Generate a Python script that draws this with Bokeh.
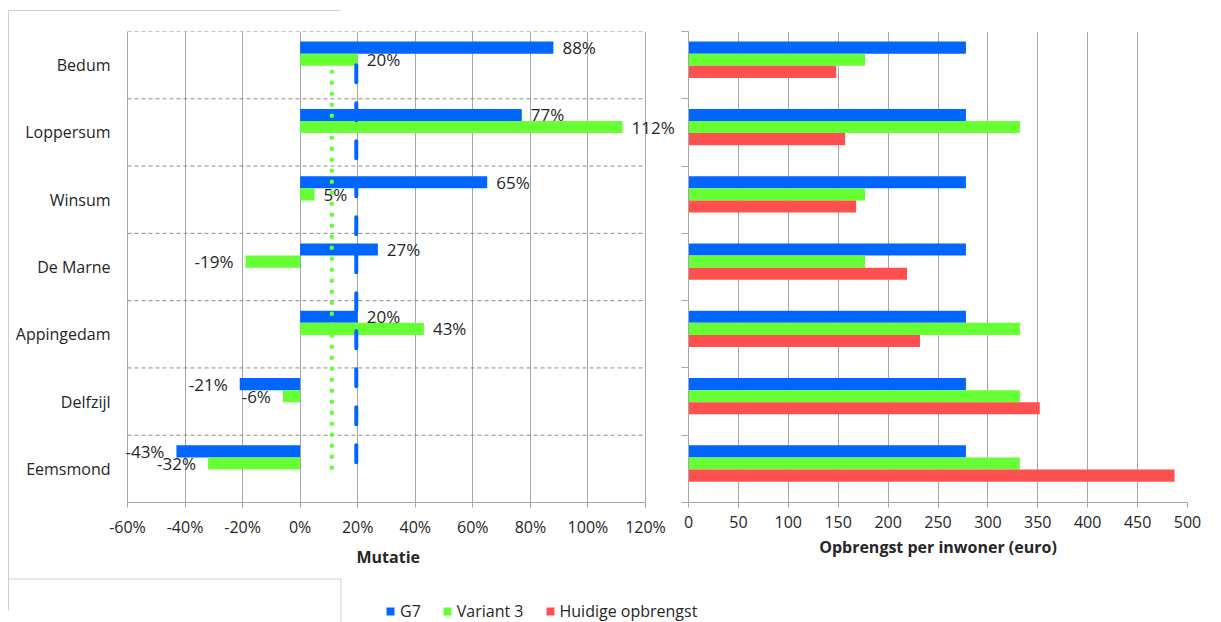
import numpy as np
from bokeh.plotting import figure
from bokeh.models import (Range1d, FixedTicker, SingleIntervalTicker, PrintfTickFormatter,
                          ColumnDataSource, Legend, LegendItem, BoxAnnotation, InlineStyleSheet,
                          Title)
from bokeh.layouts import column, row
from bokeh.embed import file_html
from bokeh.resources import INLINE
from bokeh.core.properties import value

# ---------------- data ----------------
municipalities = ["Bedum", "Loppersum", "Winsum", "De Marne", "Appingedam", "Delfzijl", "Eemsmond"]
g7_mutation = [88, 77, 65, 27, 20, -21, -43]            # %
variant3_mutation = [20, 112, 5, -19, 43, -6, -32]      # %
g7_revenue = [278, 278, 278, 278, 278, 278, 278]        # euro per inhabitant
variant3_revenue = [177, 332, 177, 177, 332, 332, 332]
current_revenue = [148, 157, 168, 219, 232, 352, 487]
g7_reference = 19.5          # % (dashed blue line)
variant3_reference = 11      # % (dotted green line)
mutation_min, mutation_max, mutation_step = -60, 120, 20
revenue_min, revenue_max, revenue_step = 0, 500, 50
series_names = ["G7", "Variant 3", "Huidige opbrengst"]
mutation_axis_title = "Mutatie"
revenue_axis_title = "Opbrengst per inwoner (euro)"

# ---------------- style ----------------
BLUE, GREEN, RED = "#0066FF", "#66FF33", "#FF5050"
FONT = "Open Sans"
TXT = "#262626"
GRID = "#A6A6A6"
OFFS = [0.24, 0.42, 0.60]
BAR_H = 0.18
n = len(municipalities)
idx = np.arange(n)


def style_common(p):
    p.toolbar_location = None
    p.outline_line_color = None
    p.background_fill_color = "white"
    p.border_fill_color = "white"


def style_xaxis(p):
    ax = p.xaxis[0]
    ax.axis_line_color = GRID
    ax.major_tick_line_color = GRID
    ax.minor_tick_line_color = None
    ax.major_tick_out = 5
    ax.major_tick_in = 0
    ax.major_label_standoff = 8
    ax.major_label_text_font = FONT
    ax.major_label_text_font_size = "16px"
    ax.major_label_text_color = TXT
    ax.axis_label_standoff = 5
    ax.axis_label_text_font = FONT
    ax.axis_label_text_font_size = "16px"
    ax.axis_label_text_font_style = "bold"
    ax.axis_label_text_color = TXT


# ---------------- left: mutation ----------------
# axis span -60..120 covers 518 px; frame is padded (10 px left, 32 px right) so labels are not clipped
AX_PX = 518
px_per = AX_PX / (mutation_max - mutation_min)
pad_l, pad_r = 10, 32
pl = figure(width=117 + AX_PX + pad_l + pad_r + 1, height=572,
            min_border_left=117, min_border_right=1, min_border_top=31, min_border_bottom=70,
            x_range=Range1d(mutation_min - pad_l / px_per, mutation_max + pad_r / px_per),
            y_range=Range1d(n, 0), output_backend="svg", toolbar_location=None)
style_common(pl)

def lab(vals):
    return [f"{v}%" for v in vals]

def aligns(vals):
    return ["left" if v >= 0 else "right" for v in vals]

def offs(vals):
    return [9 if v >= 0 else -12 for v in vals]

src_l = ColumnDataSource(dict(
    y_g7=idx + OFFS[0], y_v3=idx + OFFS[1],
    g7=g7_mutation, v3=variant3_mutation,
    g7_lbl=lab(g7_mutation), v3_lbl=lab(variant3_mutation),
    g7_al=aligns(g7_mutation), v3_al=aligns(variant3_mutation),
    g7_off=offs(g7_mutation), v3_off=offs(variant3_mutation),
))

# category separators (dashed) between municipalities
pl.segment(x0=mutation_min, x1=mutation_max, y0=list(range(n)), y1=list(range(n)),
           line_color="#8C8C8C", line_width=1, line_dash="4 3")

pl.hbar(y="y_g7", left=0, right="g7", height=BAR_H, fill_color=BLUE, line_color=None, source=src_l)
pl.hbar(y="y_v3", left=0, right="v3", height=BAR_H, fill_color=GREEN, line_color=None, source=src_l)

pl.segment(x0=[variant3_reference], x1=[variant3_reference], y0=[0.6], y1=[n - 0.45],
           line_color=GREEN, line_width=4.5, line_dash="0 11", line_cap="round")
pl.segment(x0=[g7_reference], x1=[g7_reference], y0=[0.5], y1=[n - 0.45],
           line_color=BLUE, line_width=4, line_dash="17 21", line_cap="round")

for key in ["g7", "v3"]:
    pl.text(x=key, y=f"y_{key}", text=f"{key}_lbl", text_align=f"{key}_al",
            x_offset=f"{key}_off", text_baseline="middle", text_font=value(FONT),
            text_font_size="17px", text_color=TXT, source=src_l)

pl.xaxis.ticker = SingleIntervalTicker(interval=mutation_step)
pl.xaxis.formatter = PrintfTickFormatter(format="%d%%")
pl.xaxis.bounds = (mutation_min, mutation_max)
style_xaxis(pl)
# axis title centred under the -60..120 span (not under the padded frame)
pl.add_layout(Title(text=mutation_axis_title, align="left", offset=239, standoff=6,
                    text_font=FONT, text_font_size="16px", text_font_style="bold",
                    text_color=TXT), "below")
yl = pl.yaxis[0]
yl.ticker = FixedTicker(ticks=list(idx + 0.5))
yl.major_label_overrides = {float(i + 0.5): m for i, m in enumerate(municipalities)}
yl.major_tick_out = 0
yl.major_tick_in = 0
yl.minor_tick_line_color = None
yl.axis_line_color = None
yl.major_label_standoff = 7
yl.major_label_text_font = FONT
yl.major_label_text_font_size = "16px"
yl.major_label_text_color = TXT
pl.xgrid.ticker = SingleIntervalTicker(interval=mutation_step)
pl.xgrid.grid_line_color = GRID
pl.ygrid.visible = False

# decorative frame lines around the left chart area (CSS overlay)
pl.stylesheets = [InlineStyleSheet(css=(
    ":host::after { content: ''; position: absolute; left: 8px; top: 10px; "
    "width: 332px; height: 600px; border-top: 1px solid #CFCFCF; "
    "border-left: 1px solid #CFCFCF; pointer-events: none; z-index: 50; }"))]

# ---------------- right: revenue ----------------
pr = figure(width=1221 - pl.width, height=572, min_border_left=10, min_border_right=34,
            min_border_top=31, min_border_bottom=70,
            x_range=Range1d(revenue_min, revenue_max), y_range=Range1d(n, 0),
            output_backend="svg", toolbar_location=None)
style_common(pr)
src_r = ColumnDataSource(dict(
    y_g7=idx + OFFS[0], y_v3=idx + OFFS[1], y_cur=idx + OFFS[2],
    g7=g7_revenue, v3=variant3_revenue, cur=current_revenue))
pr.hbar(y="y_g7", left=0, right="g7", height=BAR_H, fill_color=BLUE, line_color=None, source=src_r)
pr.hbar(y="y_v3", left=0, right="v3", height=BAR_H, fill_color=GREEN, line_color=None, source=src_r)
pr.hbar(y="y_cur", left=0, right="cur", height=BAR_H, fill_color=RED, line_color=None, source=src_r)

pr.xaxis.ticker = SingleIntervalTicker(interval=revenue_step)
pr.xaxis.axis_label = revenue_axis_title
style_xaxis(pr)
yr = pr.yaxis[0]
yr.ticker = FixedTicker(ticks=[], minor_ticks=list(range(n + 1)))
yr.axis_line_color = GRID
yr.major_tick_line_color = None
yr.major_tick_out = 0
yr.major_label_standoff = 0
yr.minor_tick_line_color = GRID
yr.minor_tick_out = 7
yr.minor_tick_in = 0
pr.xgrid.ticker = SingleIntervalTicker(interval=revenue_step)
pr.xgrid.grid_line_color = GRID
pr.ygrid.visible = False

# ---------------- legend strip ----------------
frame_col = "#CFCFCF"
pg = figure(width=1221, height=50, min_border=0, x_range=Range1d(0, 1), y_range=Range1d(0, 1),
            output_backend="svg", toolbar_location=None)
style_common(pg)
pg.axis.visible = False
pg.grid.visible = False
# legend-only renderers (zero-size, outside the visible range)
dummies = [pg.hbar(y=[5], left=[0], right=[0], height=0.01, fill_color=c, line_color=None)
           for c in (BLUE, GREEN, RED)]
for box in [dict(left=8, right=340, top=6, bottom=7),
            dict(left=340, right=341, top=6, bottom=50)]:
    pg.add_layout(BoxAnnotation(**box, left_units="canvas", right_units="canvas",
                                top_units="canvas", bottom_units="canvas",
                                fill_color=frame_col, fill_alpha=1, line_color=None))
legend = Legend(items=[LegendItem(label=s, renderers=[r]) for s, r in zip(series_names, dummies)],
                orientation="horizontal", location=(385, 0), glyph_width=10, glyph_height=10,
                label_standoff=5, spacing=21, padding=0, margin=0, border_line_color=None,
                background_fill_alpha=0, label_text_font=FONT, label_text_font_size="16px",
                label_text_color=TXT)
pg.add_layout(legend, "center")

layout = column(row(pl, pr), pg)
open("out.html", "w").write(file_html(layout, INLINE))
